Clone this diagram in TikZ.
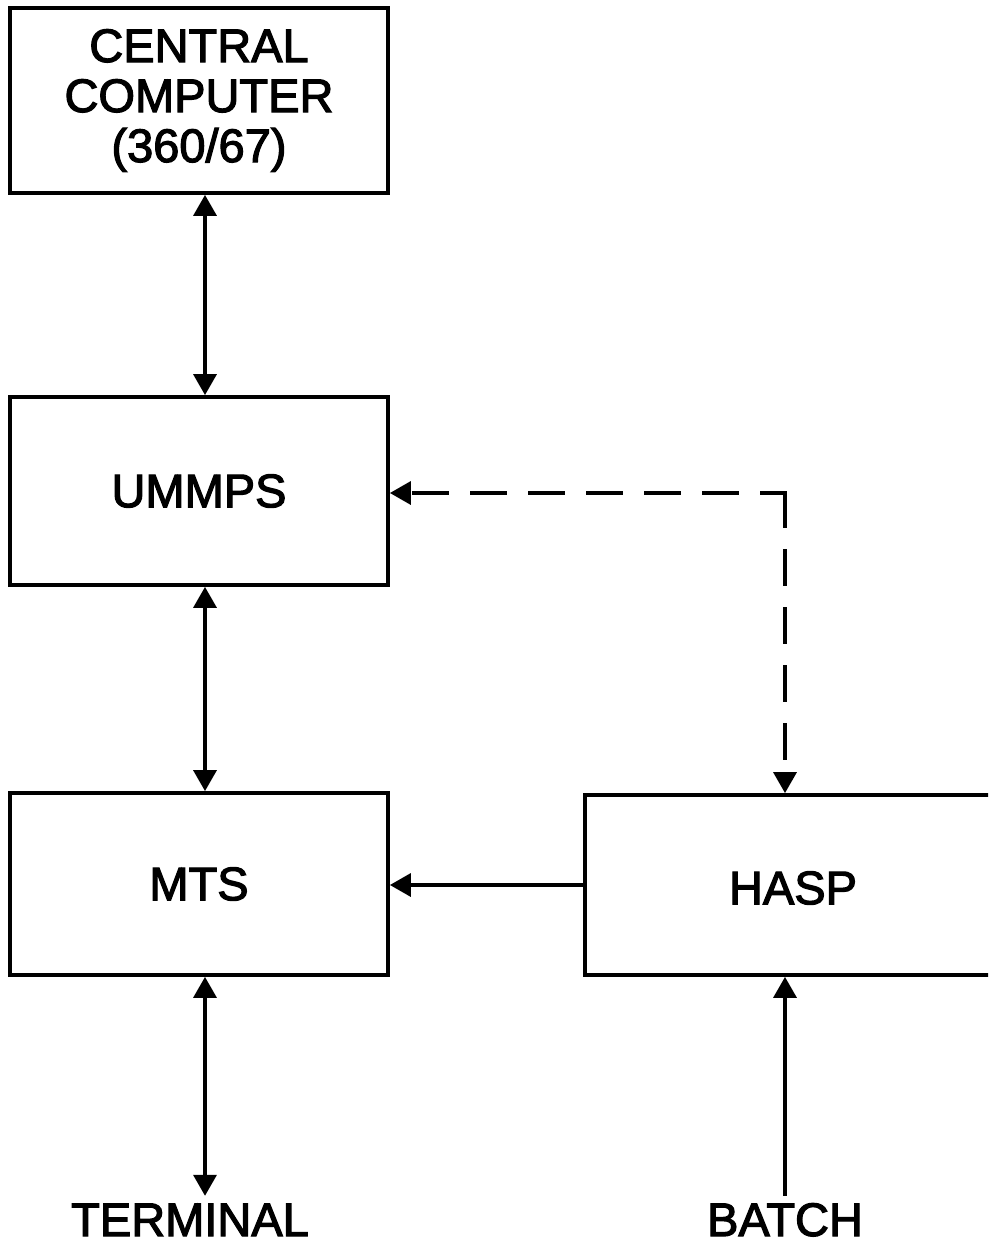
\documentclass[tikz,border=0pt]{standalone}
\usepackage{fontspec}
\setmainfont{Liberation Sans}[FakeBold=2.5]
\usetikzlibrary{arrows.meta}
\begin{document}
\begin{tikzpicture}[x=1pt,y=-1pt,
  every node/.style={font=\fontsize{47}{50}\selectfont},
  blk/.style={draw,line width=3.8pt,minimum width=378pt,align=center,inner sep=0pt},
  lbl/.style={text height=34pt,text depth=0pt,inner sep=6pt},
  conn/.style={line width=3.5pt,-{Triangle[length=21pt,width=23pt]}},
  biconn/.style={line width=3.5pt,{Triangle[length=21pt,width=23pt]}-{Triangle[length=21pt,width=23pt]}},
  dashline/.style={dash pattern=on 33pt off 25pt,line cap=rect}]
\useasboundingbox (0,0) rectangle (988,1246);
\clip (0,0) rectangle (988,1246);
\node[blk,minimum height=185pt] (cc) at (199,100.5) {CENTRAL\\COMPUTER\\(360/67)};
\node[blk,minimum height=188pt] (um) at (199,491) {UMMPS};
\node[blk,minimum height=182pt] (mts) at (199,884) {MTS};
\node[draw,line width=3.8pt,minimum width=420pt,minimum height=180pt,inner sep=0pt] (hbox) at (795,885) {};
\node (hasp) at (793,888) {HASP};
\node[lbl] (term) at (190,1219) {TERMINAL};
\node[lbl] (batch) at (785,1219) {BATCH};
\coordinate (ax) at (205,0);
\coordinate (bx) at (785,0);
\coordinate (corner) at (785,493);
\draw[biconn] (cc.south -| ax) -- (um.north -| ax);
\draw[biconn] (um.south -| ax) -- (mts.north -| ax);
\draw[biconn] (mts.south -| ax) -- (ax |- term.north);
\draw[conn] (batch.north -| bx) -- (hbox.south -| bx);
\draw[conn] (hbox.west |- 0,885) -- (mts.east |- 0,885);
\draw[conn,dashline,dash phase=10pt] (corner) -- (um.east |- corner);
\draw[conn,dashline] (corner) -- (hbox.north -| bx);
\end{tikzpicture}
\end{document}
